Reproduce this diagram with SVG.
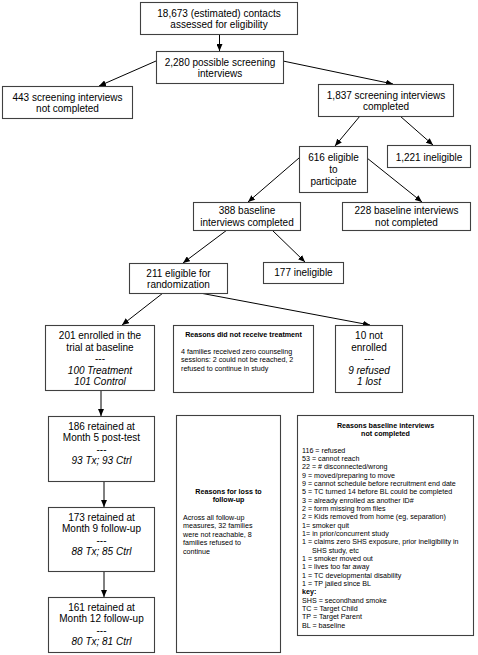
<svg xmlns="http://www.w3.org/2000/svg" width="478" height="655" viewBox="0 0 478 655">
<defs>
<marker id="ah" markerWidth="7" markerHeight="6" refX="7" refY="3" orient="auto" markerUnits="userSpaceOnUse">
<path d="M0,0 L7,3 L0,6 Z" fill="#000"/>
</marker>
<style>
.box{fill:#fff;stroke:#404040;stroke-width:1.1}
.t{font-family:"Liberation Sans",Arial,sans-serif;font-size:10px;fill:#000;text-anchor:middle}
.i{font-style:italic}
.s{font-family:"Liberation Sans",Arial,sans-serif;font-size:7.15px;fill:#000}
.b{font-weight:bold}
.c{text-anchor:middle}
.ln{stroke:#000;stroke-width:1;fill:none;marker-end:url(#ah)}
</style>
</defs>
<rect width="478" height="655" fill="#fff"/>

<g id="connectors">
<line class="ln" x1="219.5" y1="34" x2="219.5" y2="51"/>
<line class="ln" x1="156" y1="61" x2="99" y2="86"/>
<line class="ln" x1="283" y1="61" x2="393" y2="84"/>
<line class="ln" x1="360" y1="116" x2="335" y2="146"/>
<line class="ln" x1="400" y1="116" x2="433" y2="145"/>
<line class="ln" x1="299" y1="158" x2="248" y2="202"/>
<line class="ln" x1="367" y1="158" x2="422" y2="202"/>
<line class="ln" x1="227" y1="230" x2="183" y2="263"/>
<line class="ln" x1="272" y1="230" x2="305" y2="262"/>
<line class="ln" x1="163" y1="293" x2="122" y2="325"/>
<line class="ln" x1="200" y1="293" x2="370" y2="325"/>
<line class="ln" x1="101" y1="390" x2="101" y2="416"/>
<line class="ln" x1="104" y1="481" x2="104" y2="507"/>
<line class="ln" x1="104" y1="571" x2="104" y2="597"/>
</g>

<g id="n_contacts">
<rect class="box" x="140.5" y="2.5" width="157" height="32"/>
<text class="t" x="219" y="16.5">18,673 (estimated) contacts</text>
<text class="t" x="219" y="27.5">assessed for eligibility</text>
</g>

<g id="n_possible">
<rect class="box" x="156.5" y="51.5" width="127" height="32"/>
<text class="t" x="220" y="65.5">2,280 possible screening</text>
<text class="t" x="220" y="76.5">interviews</text>
</g>

<g id="n_443">
<rect class="box" x="2.5" y="86.5" width="130" height="32"/>
<text class="t" x="67.5" y="100.5">443 screening interviews</text>
<text class="t" x="67.5" y="111.5">not completed</text>
</g>

<g id="n_1837">
<rect class="box" x="318.5" y="84.5" width="135" height="32"/>
<text class="t" x="386" y="98.5">1,837 screening interviews</text>
<text class="t" x="386" y="109.5">completed</text>
</g>

<g id="n_616">
<rect class="box" x="299.5" y="146.5" width="68" height="46"/>
<text class="t" x="333.5" y="160.5">616 eligible</text>
<text class="t" x="333.5" y="172.5">to</text>
<text class="t" x="333.5" y="184.5">participate</text>
</g>

<g id="n_1221">
<rect class="box" x="387.5" y="145.5" width="83" height="22"/>
<text class="t" x="429" y="160.5">1,221 ineligible</text>
</g>

<g id="n_388">
<rect class="box" x="193.5" y="202.5" width="107" height="28"/>
<text class="t" x="247" y="213.5">388 baseline</text>
<text class="t" x="247" y="225.5">interviews completed</text>
</g>

<g id="n_228">
<rect class="box" x="342.5" y="202.5" width="128" height="28"/>
<text class="t" x="406.5" y="213.5">228 baseline interviews</text>
<text class="t" x="406.5" y="225.5">not completed</text>
</g>

<g id="n_177">
<rect class="box" x="263.5" y="262.5" width="80" height="21"/>
<text class="t" x="303.5" y="275.5">177 ineligible</text>
</g>

<g id="n_211">
<rect class="box" x="129.5" y="263.5" width="98" height="30"/>
<text class="t" x="178.5" y="276.5">211 eligible for</text>
<text class="t" x="178.5" y="287.5">randomization</text>
</g>

<g id="n_201">
<rect class="box" x="45.5" y="325.5" width="109" height="65"/>
<text class="t" x="100" y="339">201 enrolled in the</text>
<text class="t" x="100" y="350.5">trial at baseline</text>
<text class="t" x="100" y="362">---</text>
<text class="t i" x="100" y="373.5">100 Treatment</text>
<text class="t i" x="100" y="385">101 Control</text>
</g>

<g id="n_reasons_treatment">
<rect class="box" x="173.5" y="325.5" width="140" height="67"/>
<text class="s b c" x="243.5" y="336.6">Reasons did not receive treatment</text>
<text class="s" x="181" y="353.6">4 families received zero counseling</text>
<text class="s" x="181" y="362.1">sessions: 2 could not be reached, 2</text>
<text class="s" x="181" y="370.6">refused to continue in study</text>
</g>

<g id="n_10">
<rect class="box" x="335.5" y="325.5" width="67" height="67"/>
<text class="t" x="369" y="339">10 not</text>
<text class="t" x="369" y="350.5">enrolled</text>
<text class="t" x="369" y="362">---</text>
<text class="t i" x="369" y="373.5">9 refused</text>
<text class="t i" x="369" y="385">1 lost</text>
</g>

<g id="n_186">
<rect class="box" x="48.5" y="416.5" width="106" height="65"/>
<text class="t" x="101.5" y="429.5">186 retained at</text>
<text class="t" x="101.5" y="441">Month 5 post-test</text>
<text class="t" x="101.5" y="452.5">---</text>
<text class="t i" x="101.5" y="464">93 Tx; 93 Ctrl</text>
</g>

<g id="n_173">
<rect class="box" x="48.5" y="507.5" width="106" height="64"/>
<text class="t" x="101.5" y="520.5">173 retained at</text>
<text class="t" x="101.5" y="532">Month 9 follow-up</text>
<text class="t" x="101.5" y="543.5">---</text>
<text class="t i" x="101.5" y="555">88 Tx; 85 Ctrl</text>
</g>

<g id="n_161">
<rect class="box" x="48.5" y="597.5" width="106" height="55"/>
<text class="t" x="101.5" y="610.5">161 retained at</text>
<text class="t" x="101.5" y="622">Month 12 follow-up</text>
<text class="t" x="101.5" y="633.5">---</text>
<text class="t i" x="101.5" y="645">80 Tx; 81 Ctrl</text>
</g>

<g id="n_reasons_loss">
<rect class="box" x="176.5" y="415.5" width="104" height="237"/>
<text class="s b c" x="228.5" y="493.6">Reasons for loss to</text>
<text class="s b c" x="228.5" y="502.1">follow-up</text>
<text class="s" x="183" y="519.6">Across all follow-up</text>
<text class="s" x="183" y="528.1">measures, 32 families</text>
<text class="s" x="183" y="536.6">were not reachable, 8</text>
<text class="s" x="183" y="545.1">families refused to</text>
<text class="s" x="183" y="553.6">continue</text>
</g>

<g id="n_reasons_baseline">
<rect class="box" x="297.5" y="415.5" width="176" height="220"/>
<text class="s b c" x="385.5" y="427.6">Reasons baseline interviews</text>
<text class="s b c" x="385.5" y="436.1">not completed</text>
<text class="s" x="302" y="452.6">116 = refused</text>
<text class="s" x="302" y="460.9">53 = cannot reach</text>
<text class="s" x="302" y="469.3">22 = # disconnected/wrong</text>
<text class="s" x="302" y="477.6">9 = moved/preparing to move</text>
<text class="s" x="302" y="485.9">9 = cannot schedule before recruitment end date</text>
<text class="s" x="302" y="494.3">5 = TC turned 14 before BL could be completed</text>
<text class="s" x="302" y="502.6">3 = already enrolled as another ID#</text>
<text class="s" x="302" y="510.9">2 = form missing from files</text>
<text class="s" x="302" y="519.3">2 = Kids removed from home (eg, separation)</text>
<text class="s" x="302" y="527.6">1= smoker quit</text>
<text class="s" x="302" y="535.9">1= in prior/concurrent study</text>
<text class="s" x="302" y="544.3">1 = claims zero SHS exposure, prior ineligibility in</text>
<text class="s" x="312" y="552.6">SHS study, etc</text>
<text class="s" x="302" y="560.9">1 = smoker moved out</text>
<text class="s" x="302" y="569.3">1 = lives too far away</text>
<text class="s" x="302" y="577.6">1 = TC developmental disability</text>
<text class="s" x="302" y="585.9">1 = TP jailed since BL</text>
<text class="s b" x="302" y="594.3">key:</text>
<text class="s" x="302" y="602.6">SHS = secondhand smoke</text>
<text class="s" x="302" y="610.9">TC = Target Child</text>
<text class="s" x="302" y="619.3">TP = Target Parent</text>
<text class="s" x="302" y="627.6">BL = baseline</text>
</g>
</svg>
